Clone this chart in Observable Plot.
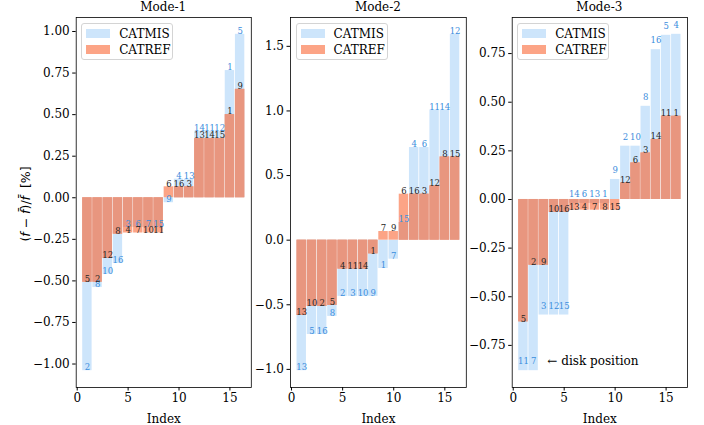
<!DOCTYPE html>
<html><head><meta charset="utf-8">
<script src="https://cdn.jsdelivr.net/npm/d3@7"></script>
<script src="https://cdn.jsdelivr.net/npm/@observablehq/plot@0.6"></script>
<style>
body{margin:0;background:#fff;}
#wrap{position:relative;width:704px;height:425px;font-family:"DejaVu Serif",serif;overflow:hidden;}
.panel{position:absolute;top:0;}
.title{position:absolute;top:0;font-size:12px;text-align:center;line-height:14px;}
.legend{position:absolute;top:22.5px;height:37px;border:1px solid #d4d4d4;border-radius:3px;background:rgba(255,255,255,0.85);box-sizing:border-box;font-size:12px;}
.legend .row{position:absolute;left:4px;height:14px;line-height:14px;white-space:nowrap;}
.legend .sw{display:inline-block;width:24px;height:9px;vertical-align:middle;margin-right:9px;position:relative;top:-1px;}
.ylab{position:absolute;left:25px;top:204px;transform:translate(-50%,-50%) rotate(-90deg);white-space:nowrap;font-family:"DejaVu Sans",sans-serif;font-size:12.5px;}
</style></head><body><div id="wrap"></div>
<script>
const modeTitles = ["Mode-1", "Mode-2", "Mode-3"];
const seriesNames = ["CATMIS", "CATREF"];
const indexValues = [1, 2, 3, 4, 5, 6, 7, 8, 9, 10, 11, 12, 13, 14, 15, 16];
const xTicks = [0, 5, 10, 15];
const yLabelText = "(<i>f</i> − <i>f\u0304</i>)/<i>f\u0304</i>&nbsp;&nbsp;[%]";
const annotationText = "← disk position";

const mode1Catmis = [-1.04, -0.54, -0.46, -0.395, -0.178, -0.178, -0.178, -0.178, -0.03, 0.112, 0.112, 0.40, 0.40, 0.40, 0.765, 0.983];
const mode1CatmisPos = [2, 8, 10, 16, 3, 6, 7, 15, 9, 4, 13, 14, 11, 12, 1, 5];
const mode1Catref = [-0.508, -0.508, -0.365, -0.219, -0.212, -0.212, -0.212, -0.212, 0.066, 0.066, 0.066, 0.356, 0.356, 0.356, 0.50, 0.652];
const mode1CatrefPos = [5, 2, 12, 8, 4, 7, 10, 11, 6, 16, 3, 13, 14, 15, 1, 9];
const mode1Ticks = [-1.0, -0.75, -0.5, -0.25, 0, 0.25, 0.5, 0.75, 1.0];

const mode2Catmis = [-1.01, -0.73, -0.73, -0.59, -0.435, -0.435, -0.435, -0.435, -0.219, -0.147, 0.137, 0.717, 0.717, 1.008, 1.008, 1.593];
const mode2CatmisPos = [13, 5, 16, 8, 2, 3, 10, 9, 1, 7, 15, 4, 6, 11, 14, 12];
const mode2Catref = [-0.583, -0.513, -0.513, -0.505, -0.224, -0.224, -0.224, -0.106, 0.067, 0.067, 0.356, 0.356, 0.356, 0.42, 0.644, 0.644];
const mode2CatrefPos = [13, 10, 2, 5, 4, 11, 14, 1, 7, 9, 6, 16, 3, 12, 8, 15];
const mode2Ticks = [-1.0, -0.5, 0, 0.5, 1.0, 1.5];

const mode3Catmis = [-0.88, -0.88, -0.594, -0.594, -0.594, -0.02, -0.02, -0.02, -0.02, 0.103, 0.274, 0.274, 0.479, 0.77, 0.844, 0.849];
const mode3CatmisPos = [11, 7, 3, 12, 15, 14, 6, 13, 1, 9, 2, 10, 8, 16, 5, 4];
const mode3Catref = [-0.629, -0.338, -0.338, -0.066, -0.066, -0.055, -0.055, -0.055, -0.055, -0.055, 0.085, 0.188, 0.239, 0.308, 0.428, 0.428];
const mode3CatrefPos = [5, 2, 9, 10, 16, 13, 4, 7, 8, 15, 12, 6, 3, 14, 11, 1];
const mode3Ticks = [-0.75, -0.5, -0.25, 0, 0.25, 0.5, 0.75];

const annotation = [{x: 3.35, y: -0.83, text: annotationText}];

const blueFill = "#cde5fb";
const redFill = "#fca486";
const overlapFill = "#e8967f";
const blueText = "#3a8ddd";
const redText = "#262626";

const panels = [
  {title: modeTitles[0], cm: mode1Catmis, cmp: mode1CatmisPos, cr: mode1Catref, crp: mode1CatrefPos, ticks: mode1Ticks, fmt: ".2f", left: 0, width: 262, ml: 75.7, mr: 11.2, bdy: 3, ann: false},
  {title: modeTitles[1], cm: mode2Catmis, cmp: mode2CatmisPos, cr: mode2Catref, crp: mode2CatrefPos, ticks: mode2Ticks, fmt: ".1f", left: 255, width: 220, ml: 35, mr: 9.2, bdy: 3, ann: false},
  {title: modeTitles[2], cm: mode3Catmis, cmp: mode3CatmisPos, cr: mode3Catref, crp: mode3CatrefPos, ticks: mode3Ticks, fmt: ".2f", left: 470, width: 234, ml: 41.7, mr: 17, bdy: 9, ann: true}
];

const wrap = document.getElementById("wrap");
const overlap = (a, b) => a * b > 0 ? Math.sign(a) * Math.min(Math.abs(a), Math.abs(b)) : 0;

for (const p of panels) {
  const rows = indexValues.map((i, k) => ({i, cm: p.cm[k], cr: p.cr[k], cmp: String(p.cmp[k]), crp: String(p.crp[k]), ov: overlap(p.cm[k], p.cr[k])}));
  const all = [0, ...p.cm, ...p.cr];
  const lo = d3.min(all), hi = d3.max(all), span = hi - lo;
  const marks = [
    Plot.rectY(rows, {x1: d => d.i - 0.5, x2: d => d.i + 0.5, y1: 0, y2: "cm", fill: blueFill, insetLeft: 0.4, insetRight: 0.4}),
    Plot.rectY(rows, {x1: d => d.i - 0.5, x2: d => d.i + 0.5, y1: 0, y2: "cr", fill: redFill, insetLeft: 0.4, insetRight: 0.4}),
    Plot.rectY(rows, {x1: d => d.i - 0.5, x2: d => d.i + 0.5, y1: 0, y2: "ov", fill: overlapFill, insetLeft: 0.4, insetRight: 0.4}),
    Plot.text(rows, {x: "i", y: "cm", text: "cmp", fill: blueText, dy: -p.bdy, fontSize: 8.5, lineAnchor: "middle"}),
    Plot.text(rows, {x: "i", y: "cr", text: "crp", fill: redText, dy: -3, fontSize: 8.5, lineAnchor: "middle"}),
    Plot.axisY({ticks: p.ticks, tickFormat: d3.format(p.fmt), tickSize: 3.5, tickPadding: 3, label: null}),
    Plot.axisX({ticks: xTicks, tickFormat: d3.format("d"), tickSize: 3.5, tickPadding: 2, label: "Index", labelAnchor: "center", labelArrow: "none", labelOffset: 35}),
    Plot.frame({stroke: "black", strokeWidth: 0.8})
  ];
  if (p.ann) marks.push(Plot.text(annotation, {x: "x", y: "y", text: "text", textAnchor: "start", fontSize: 12, fill: "black"}));
  const svg = Plot.plot({
    width: p.width, height: 425,
    marginLeft: p.ml, marginRight: p.mr, marginTop: 17, marginBottom: 38,
    x: {domain: [-0.1, 17.1]},
    y: {domain: [lo - 0.05 * span, hi + 0.05 * span]},
    style: {fontFamily: "DejaVu Serif", fontSize: "12px", background: "transparent", color: "black", overflow: "visible"},
    marks
  });
  const div = document.createElement("div");
  div.className = "panel";
  div.style.left = p.left + "px";
  div.appendChild(svg);
  wrap.appendChild(div);

  const frameLeft = p.left + p.ml, frameRight = p.left + p.width - p.mr;
  const t = document.createElement("div");
  t.className = "title";
  t.style.left = frameLeft + "px";
  t.style.width = (frameRight - frameLeft) + "px";
  t.textContent = p.title;
  wrap.appendChild(t);

  const lg = document.createElement("div");
  lg.className = "legend";
  lg.style.left = (frameLeft + 5.5) + "px";
  lg.style.width = "92px";
  const fills = [blueFill, redFill];
  seriesNames.forEach((name, k) => {
    const r = document.createElement("div");
    r.className = "row";
    r.style.top = (3 + k * 16.5) + "px";
    r.innerHTML = `<span class="sw" style="background:${fills[k]}"></span>${name}`;
    lg.appendChild(r);
  });
  wrap.appendChild(lg);
}

const yl = document.createElement("div");
yl.className = "ylab";
yl.innerHTML = yLabelText;
wrap.appendChild(yl);
</script></body></html>
